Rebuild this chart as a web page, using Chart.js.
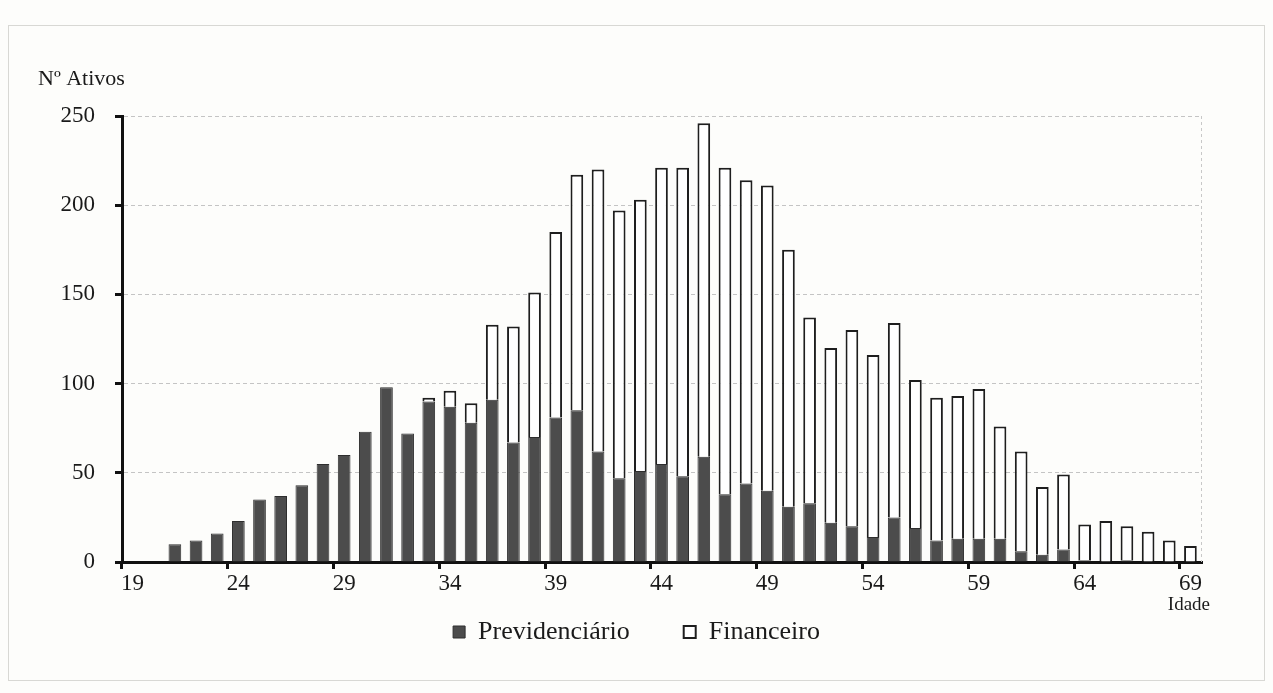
<!DOCTYPE html>
<html>
<head>
<meta charset="utf-8">
<script src="https://cdn.jsdelivr.net/npm/chart.js@4.4.1/dist/chart.umd.min.js"></script>
<style>
  html, body { margin: 0; padding: 0; background: #fdfdfb; }
  #wrap { width: 1273px; height: 693px; position: relative; }
</style>
</head>
<body>
<div id="wrap"><canvas id="ativosChart" width="1273" height="693"></canvas></div>
<script>
// ages 19..69
const idades = ['19','20','21','22','23','24','25','26','27','28','29','30','31','32','33','34','35','36','37','38',
    '39','40','41','42','43','44','45','46','47','48','49','50','51','52','53','54','55','56','57','58',
    '59','60','61','62','63','64','65','66','67','68','69'];

const previdenciario = [0, 0, 10, 12, 16, 23, 35, 37, 43, 55, 60, 73, 98, 72, 90, 87, 78, 91, 67, 70,
    81, 85, 62, 47, 51, 55, 48, 59, 38, 44, 40, 31, 33, 22, 20, 14, 25, 19, 12, 13,
    13, 13, 6, 4, 7, 1, 0, 1, 0, 0, 0];

const financeiro = [0, 0, 0, 0, 0, 0, 0, 0, 0, 0, 0, 0, 0, 0, 2, 9, 11, 42, 65, 81,
    104, 132, 158, 150, 152, 166, 173, 187, 183, 170, 171, 144, 104, 98, 110, 102, 109, 83, 80, 80,
    84, 63, 56, 38, 42, 20, 23, 19, 17, 12, 9];

const yTicks = [0, 50, 100, 150, 200, 250];

const serif = 'Liberation Serif';

const extraText = {
    id: 'extraText',
    afterLayout(chart) {
        // legend sits closer to the axis labels and centred on the page
        const lg = chart.legend;
        if (lg) {
            lg.top -= 27;
            lg.bottom -= 27;
            lg.left += 36;
            lg.right += 36;
        }
    },
    beforeDraw(chart) {
        const ctx = chart.ctx;
        ctx.save();
        ctx.fillStyle = '#fdfdfb';
        ctx.fillRect(0, 0, chart.width, chart.height);
        ctx.strokeStyle = '#d8d8d4';
        ctx.lineWidth = 1;
        ctx.strokeRect(8.5, 25.5, 1256, 655);
        ctx.restore();
    },
    afterDraw(chart) {
        const ctx = chart.ctx;
        const area = chart.chartArea;
        ctx.save();
        ctx.strokeStyle = '#c8c8c8';
        ctx.setLineDash([3, 3]);
        ctx.lineWidth = 1;
        ctx.beginPath();
        ctx.moveTo(area.right + 0.5, area.top);
        ctx.lineTo(area.right + 0.5, area.bottom);
        ctx.stroke();
        ctx.setLineDash([]);
        ctx.fillStyle = '#1a1a1a';
        ctx.font = '22px "' + serif + '"';
        ctx.textBaseline = 'middle';
        ctx.textAlign = 'left';
        ctx.fillText('Nº Ativos', 38, 79);
        ctx.font = '19px "' + serif + '"';
        ctx.textAlign = 'right';
        ctx.fillText('Idade', 1210, 605);
        ctx.restore();
    }
};

document.addEventListener('DOMContentLoaded', function() {
    const ctx = document.getElementById('ativosChart');
    new Chart(ctx, {
        type: 'bar',
        data: {
            labels: idades,
            datasets: [
                {
                    label: 'Previdenciário',
                    data: previdenciario,
                    backgroundColor: '#4c4c4c',
                    borderColor: '#2e2e2e',
                    borderWidth: 1,
                    barPercentage: 0.6,
                    categoryPercentage: 1.0
                },
                {
                    label: 'Financeiro',
                    data: financeiro,
                    backgroundColor: '#ffffff',
                    borderColor: '#1e1e1e',
                    borderWidth: 2,
                    barPercentage: 0.6,
                    categoryPercentage: 1.0
                }
            ]
        },
        options: {
            responsive: false,
            animation: false,
            layout: { padding: { top: 116, left: 0, right: 72, bottom: 11 } },
            scales: {
                x: {
                    stacked: true,
                    offset: true,
                    grid: {
                        offset: true,
                        drawOnChartArea: false,
                        tickLength: 7,
                        lineWidth: 3,
                        color: c => (c.index % 5 === 0 ? '#111' : 'rgba(0,0,0,0)')
                    },
                    border: { display: true, color: '#111', width: 3 },
                    ticks: {
                        autoSkip: false,
                        maxRotation: 0,
                        padding: 1,
                        color: '#1a1a1a',
                        font: { family: serif, size: 23 },
                        callback: function(value, index) {
                            return index % 5 === 0 ? idades[index] : '';
                        }
                    },
                    afterFit: scale => { scale.height = 30; }
                },
                y: {
                    stacked: true,
                    min: 0,
                    max: 250,
                    afterBuildTicks: scale => { scale.ticks = yTicks.map(v => ({ value: v })); },
                    grid: {
                        color: '#c4c4c4',
                        lineWidth: 1,
                        tickColor: '#111',
                        tickLength: 7,
                        tickWidth: 3
                    },
                    border: { display: true, color: '#111', width: 3, dash: [4, 3] },
                    ticks: {
                        padding: 20,
                        color: '#1a1a1a',
                        font: { family: serif, size: 23 }
                    },
                    afterFit: scale => { scale.width = 122; }
                }
            },
            plugins: {
                legend: {
                    position: 'bottom',
                    labels: {
                        boxWidth: 12,
                        boxHeight: 12,
                        padding: 54,
                        color: '#1a1a1a',
                        font: { family: serif, size: 26 }
                    }
                },
                tooltip: { enabled: false }
            }
        },
        plugins: [extraText]
    });
});
</script>
</body>
</html>
